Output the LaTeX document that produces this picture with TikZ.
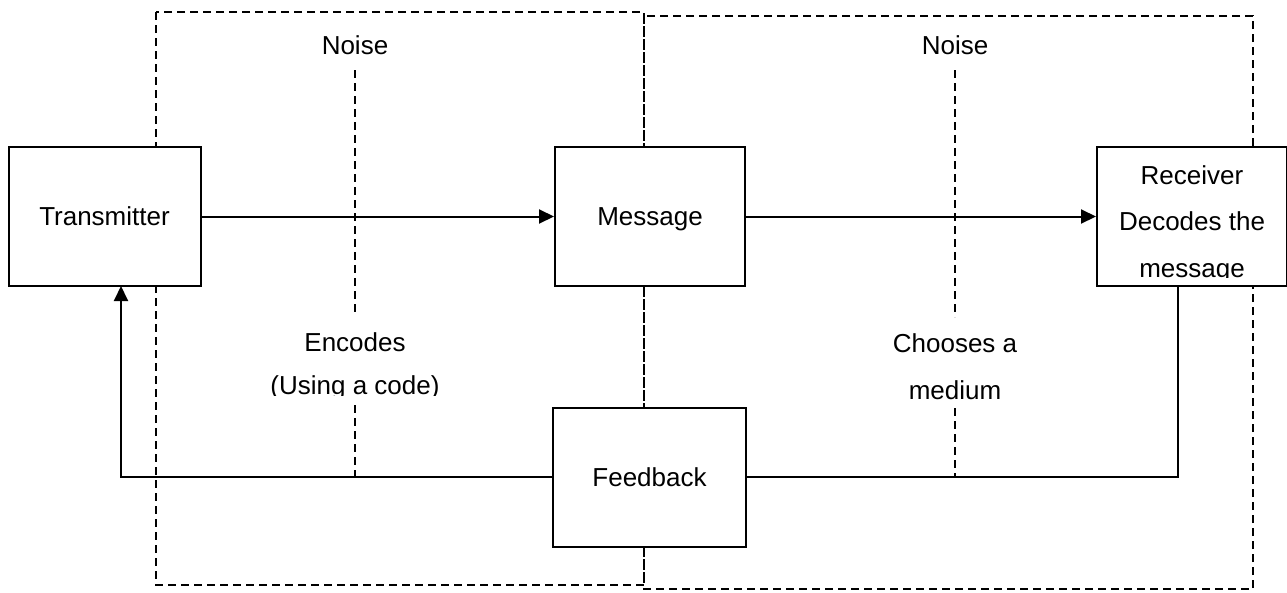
\documentclass[tikz,border=0pt]{standalone}
\usepackage{fontspec}
\setmainfont{Liberation Sans}
\usetikzlibrary{arrows.meta}
\newcommand\diagfont{\fontsize{26}{31}\selectfont}
\begin{document}
\begin{tikzpicture}[x=1pt,y=-1pt,
  font=\diagfont,
  box/.style={draw, fill=white, line width=2pt, inner sep=0pt,
    minimum width=192pt, minimum height=139pt,
    text height=18.6pt, text depth=0pt},
  label/.style={inner sep=0pt, align=center},
  noiseline/.style={line width=1.8pt, dash pattern=on 8pt off 5pt},
  link/.style={line width=2pt},
  arrowlink/.style={link, -{Triangle[length=15pt,width=14pt]}}]
\useasboundingbox (0,0) rectangle (1287,592);

% the two channel frames
\draw[noiseline] (156,12) rectangle (644,585);
\draw[noiseline] (644,16) rectangle (1253,589);

% noise labels
\node[label] (noiseA) at (355,45) {Noise};
\node[label] (noiseB) at (955,45) {Noise};
\begin{scope}
  \clip (240,300) rectangle (470,395);
  \node[label, font=\fontsize{26}{43}\selectfont] (enc) at (355,366.5) {Encodes\\(Using a code)};
\end{scope}
\node[label, font=\fontsize{26}{47}\selectfont] (med) at (955,367) {Chooses a\\medium};

% ends of the dashed noise lines around the labels
\coordinate (encTop) at (355,312);
\coordinate (encBot) at (355,405);
\coordinate (medTop) at (955,317);
\coordinate (medBot) at (955,408);

% boxes
\node[box] (tx)  at (104.5,216.5) {Transmitter};
\node[box, minimum width=190pt] (msg) at (650,216.5) {Message};
\node[box, minimum width=190pt] (rcv) at (1192,216.5) {};
\begin{scope}
  \clip (1099,149) rectangle (1285,277);
  \node[label, font=\fontsize{26}{46.5}\selectfont] (rcvtext) at (1192,224) {Receiver\\Decodes the\\message};
\end{scope}
\node[box, minimum width=193pt] (fb) at (649.5,477) {Feedback};

% dashed noise lines
\draw[noiseline] (noiseA.south |- 0,70) -- (encTop);
\draw[noiseline] (noiseB.south |- 0,70) -- (medTop);
\draw[noiseline] (encBot) -- (encBot |- fb.west);
\draw[noiseline] (medBot) -- (medBot |- fb.west);

% forward path
\draw[arrowlink] (tx.east) -- (msg.west);
\draw[arrowlink] (msg.east) -- (rcv.west);

% feedback path
\coordinate (rcvdrop) at (1178,286);
\coordinate (txrise) at (121,286);
\draw[link] (rcvdrop) |- (fb.east);
\draw[arrowlink] (fb.west) -| (txrise);
\end{tikzpicture}
\end{document}
